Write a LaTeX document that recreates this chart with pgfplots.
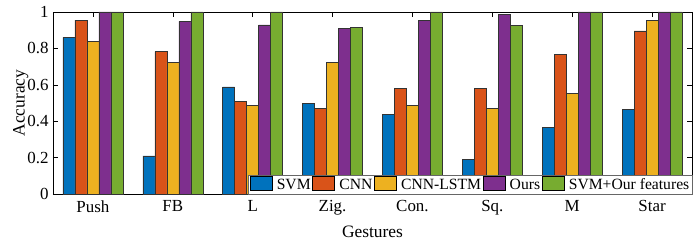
\documentclass[border=0pt]{standalone}
\usepackage{pgfplots}
\pgfplotsset{compat=1.18}
\usepackage{fontspec}
\setmainfont{Liberation Serif}
\definecolor{c1}{rgb}{0,0.447,0.741}
\definecolor{c2}{rgb}{0.85,0.325,0.098}
\definecolor{c3}{rgb}{0.929,0.694,0.125}
\definecolor{c4}{rgb}{0.494,0.184,0.556}
\definecolor{c5}{rgb}{0.466,0.674,0.188}
\begin{document}
\begin{tikzpicture}
\begin{axis}[
  scale only axis, width=639bp, height=182bp,
  ybar=0pt, bar width=0.15,
  xmin=-0.5, xmax=7.5, ymin=0, ymax=1,
  xtick={0,...,7},
  xticklabels={Push,FB,L,Zig.,Con.,Sq.,M,Star},
  ytick={0,0.2,0.4,0.6,0.8,1},
  yticklabels={0,0.2,0.4,0.6,0.8,1},
  tick align=inside, major tick length=5bp,
  tick style={black, line width=0.5pt},
  axis line style={black, line width=0.6pt},
  xlabel={Gestures}, ylabel={Accuracy},
  xlabel style={yshift=-4bp},
  ylabel style={yshift=-8bp},
  yticklabel style={xshift=-1bp},
  xticklabel style={yshift=-3bp},
  tick label style={font=\fontsize{17}{19}\selectfont},
  label style={font=\fontsize{17.5}{19}\selectfont},
  legend style={at={(1,0)}, anchor=south east, legend columns=-1,
    font=\fontsize{15.7}{16}\selectfont, draw=black!60, inner sep=1bp,
    nodes={inner sep=1.5bp},
    /tikz/every even column/.append style={column sep=0bp},
    /tikz/every odd column/.append style={column sep=3.2bp}},
  legend image code/.code={\draw[#1, draw=black] (0bp,-5bp) rectangle (22bp,8.5bp);},
  every axis plot/.append style={draw=black!80, line width=0.5pt},
  clip=false,
  extra description/.code={
    \path (rel axis cs:1,1) ++(4bp,12bp);
    \path (rel axis cs:0,0) ++(-53bp,-49bp);
  },
]
\addplot[fill=c1] coordinates {(0,0.861) (1,0.21) (2,0.588) (3,0.496) (4,0.438) (5,0.189) (6,0.368) (7,0.463)};
\addplot[fill=c2] coordinates {(0,0.956) (1,0.782) (2,0.507) (3,0.469) (4,0.582) (5,0.582) (6,0.767) (7,0.896)};
\addplot[fill=c3] coordinates {(0,0.84) (1,0.724) (2,0.487) (3,0.724) (4,0.487) (5,0.469) (6,0.551) (7,0.956)};
\addplot[fill=c4] coordinates {(0,1) (1,0.949) (2,0.929) (3,0.91) (4,0.952) (5,0.985) (6,1) (7,1)};
\addplot[fill=c5] coordinates {(0,1) (1,1) (2,1) (3,0.916) (4,1) (5,0.927) (6,1) (7,1)};
\legend{SVM,CNN,CNN-LSTM,Ours,SVM+Our features}
\end{axis}
\end{tikzpicture}
\end{document}
